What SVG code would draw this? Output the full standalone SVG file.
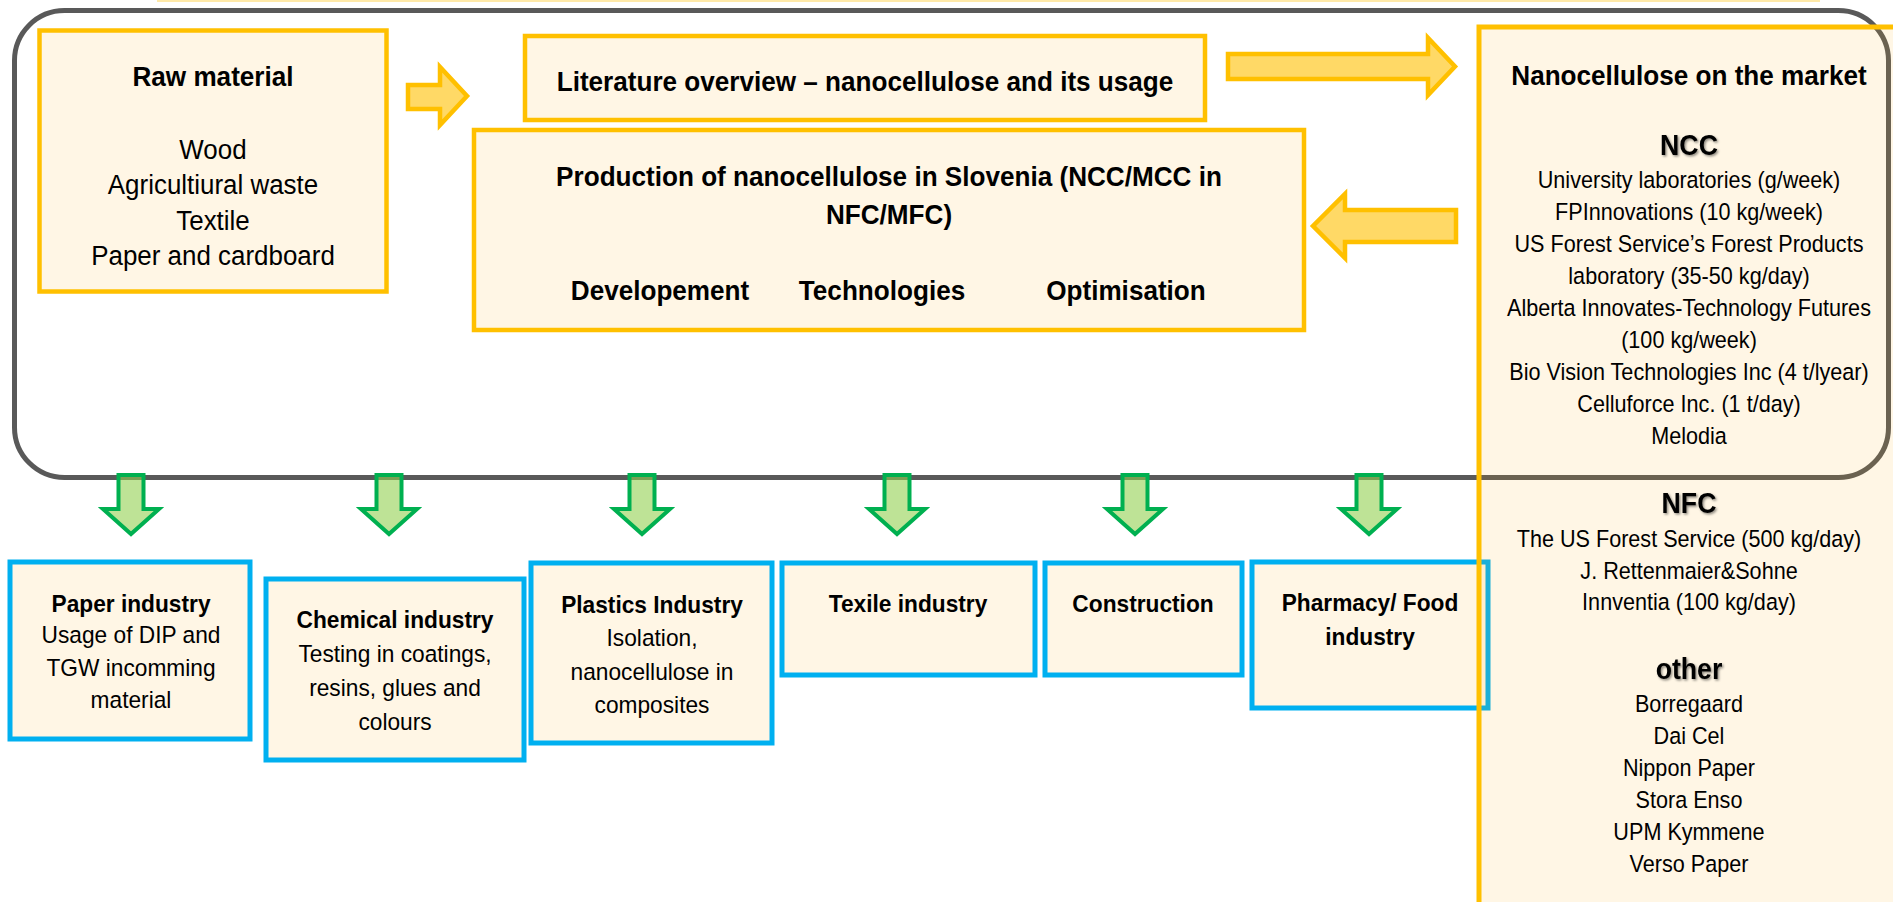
<svg xmlns="http://www.w3.org/2000/svg" width="1893" height="902" viewBox="0 0 1893 902">
<defs>
<style>
.t{font-family:"Liberation Sans",Arial,sans-serif;fill:#000;text-anchor:middle}
.b{font-weight:bold;font-size:28.4px}
.r26{font-size:28.2px}
.bb{font-weight:bold;font-size:24.7px}
.rb{font-size:24.7px}
.rp{font-size:23.5px}
.h{font-weight:bold;font-size:29px;filter:url(#sh)}
.yel{fill:#FFF6E5;stroke:#FFC000;stroke-width:4.5}
.blu{fill:#FFF6E5;stroke:#00B0F0;stroke-width:5}
.ya{fill:#FFC000;fill-opacity:0.6;stroke:#FFC000;stroke-width:4.5;stroke-linejoin:miter}
.ga{fill:#92D050;fill-opacity:0.6;stroke:#00B050;stroke-width:4;stroke-linejoin:miter}
</style>
<filter id="sh" x="-20%" y="-30%" width="150%" height="170%">
<feDropShadow dx="1.5" dy="1.5" stdDeviation="1" flood-color="#000" flood-opacity="0.45"/>
</filter>
</defs>
<rect width="1893" height="902" fill="#fff"/>
<rect x="157" y="0" width="1663" height="2" fill="#FFE9A8"/>

<g id="frame">
<rect x="14.5" y="10.5" width="1874" height="467" rx="50" ry="50" fill="none" stroke="#595959" stroke-width="5"/>
</g>

<g id="raw-material">
<rect class="yel" x="39.5" y="30.5" width="347" height="261"/>
<g transform="translate(213 0) scale(0.92 1)">
<text class="t b" x="0" y="86">Raw material</text>
<text class="t r26" x="0" y="159">Wood</text>
<text class="t r26" x="0" y="194">Agricultiural waste</text>
<text class="t r26" x="0" y="230">Textile</text>
<text class="t r26" x="0" y="265">Paper and cardboard</text>
</g>
</g>

<g id="literature">
<rect class="yel" x="525" y="36" width="680" height="84"/>
<g transform="translate(865 0) scale(0.92 1)">
<text class="t b" x="0" y="91">Literature overview – nanocellulose and its usage</text>
</g>
</g>

<g id="production">
<rect class="yel" x="474" y="130" width="830" height="200"/>
<g transform="translate(889 0) scale(0.92 1)">
<text class="t b" x="0" y="186">Production of nanocellulose in Slovenia (NCC/MCC in</text>
<text class="t b" x="0" y="224">NFC/MFC)</text>
<text class="t b" x="-248.9" y="300">Developement</text>
<text class="t b" x="-7.6" y="300">Technologies</text>
<text class="t b" x="257.6" y="300">Optimisation</text>
</g>
</g>

<g id="paper-industry">
<rect class="blu" x="10" y="562" width="240" height="177"/>
<g transform="translate(131 0) scale(0.92 1)">
<text class="t bb" x="0" y="612">Paper industry</text>
<text class="t rb" x="0" y="643">Usage of DIP and</text>
<text class="t rb" x="0" y="676">TGW incomming</text>
<text class="t rb" x="0" y="708">material</text>
</g>
</g>

<g id="chemical-industry">
<rect class="blu" x="266" y="579" width="258" height="181"/>
<g transform="translate(395 0) scale(0.92 1)">
<text class="t bb" x="0" y="628">Chemical industry</text>
<text class="t rb" x="0" y="662">Testing in coatings,</text>
<text class="t rb" x="0" y="696">resins, glues and</text>
<text class="t rb" x="0" y="730">colours</text>
</g>
</g>

<g id="plastics-industry">
<rect class="blu" x="531" y="563" width="241" height="180"/>
<g transform="translate(652 0) scale(0.92 1)">
<text class="t bb" x="0" y="613">Plastics Industry</text>
<text class="t rb" x="0" y="646">Isolation,</text>
<text class="t rb" x="0" y="680">nanocellulose in</text>
<text class="t rb" x="0" y="713">composites</text>
</g>
</g>

<g id="textile-industry">
<rect class="blu" x="782" y="563" width="253" height="112"/>
<g transform="translate(908 0) scale(0.92 1)">
<text class="t bb" x="0" y="612">Texile industry</text>
</g>
</g>

<g id="construction">
<rect class="blu" x="1045" y="563" width="197" height="112"/>
<g transform="translate(1143 0) scale(0.92 1)">
<text class="t bb" x="0" y="612">Construction</text>
</g>
</g>

<g id="pharmacy-food">
<rect class="blu" x="1252" y="562" width="236" height="146"/>
<g transform="translate(1370 0) scale(0.92 1)">
<text class="t bb" x="0" y="611">Pharmacy/ Food</text>
<text class="t bb" x="0" y="645">industry</text>
</g>
</g>

<g id="connectors">
<path class="ya" d="M408,85 H440 V67 L467,96 L440,125 V109 H408 Z"/>
<path class="ya" d="M1228,54 H1428 V38 L1455,66.5 L1428,95 V79 H1228 Z"/>
<path class="ya" d="M1456,210 H1345 V194 L1313,226 L1345,258 V242 H1456 Z"/>
<path class="ga" d="M118.5,475 H143.5 V509 H159 L131,534 L103,509 H118.5 Z"/>
<path class="ga" d="M376.5,475 H401.5 V509 H417 L389,534 L361,509 H376.5 Z"/>
<path class="ga" d="M629.5,475 H654.5 V509 H670 L642,534 L614,509 H629.5 Z"/>
<path class="ga" d="M884.5,475 H909.5 V509 H925 L897,534 L869,509 H884.5 Z"/>
<path class="ga" d="M1122.5,475 H1147.5 V509 H1163 L1135,534 L1107,509 H1122.5 Z"/>
<path class="ga" d="M1356.5,475 H1381.5 V509 H1397 L1369,534 L1341,509 H1356.5 Z"/>
</g>

<g id="market">
<rect x="1479" y="27" width="500" height="900" fill="#FFAC0E" fill-opacity="0.11" stroke="#FFC000" stroke-width="5"/>
<g transform="translate(1689 0) scale(0.92 1)">
<text class="t b" x="0" y="85">Nanocellulose on the market</text>
<text class="t h" x="0" y="155">NCC</text>
<text class="t rp" x="0" y="188">University laboratories (g/week)</text>
<text class="t rp" x="0" y="220">FPInnovations (10 kg/week)</text>
<text class="t rp" x="0" y="252">US Forest Service’s Forest Products</text>
<text class="t rp" x="0" y="284">laboratory (35-50 kg/day)</text>
<text class="t rp" x="0" y="316">Alberta Innovates-Technology Futures</text>
<text class="t rp" x="0" y="348">(100 kg/week)</text>
<text class="t rp" x="0" y="380">Bio Vision Technologies Inc (4 t/lyear)</text>
<text class="t rp" x="0" y="412">Celluforce Inc. (1 t/day)</text>
<text class="t rp" x="0" y="444">Melodia</text>
<text class="t h" x="0" y="513">NFC</text>
<text class="t rp" x="0" y="547">The US Forest Service (500 kg/day)</text>
<text class="t rp" x="0" y="579">J. Rettenmaier&amp;Sohne</text>
<text class="t rp" x="0" y="610">Innventia (100 kg/day)</text>
<text class="t h" x="0" y="679">other</text>
<text class="t rp" x="0" y="712">Borregaard</text>
<text class="t rp" x="0" y="744">Dai Cel</text>
<text class="t rp" x="0" y="776">Nippon Paper</text>
<text class="t rp" x="0" y="808">Stora Enso</text>
<text class="t rp" x="0" y="840">UPM Kymmene</text>
<text class="t rp" x="0" y="872">Verso Paper</text>
</g>
</g>
</svg>
